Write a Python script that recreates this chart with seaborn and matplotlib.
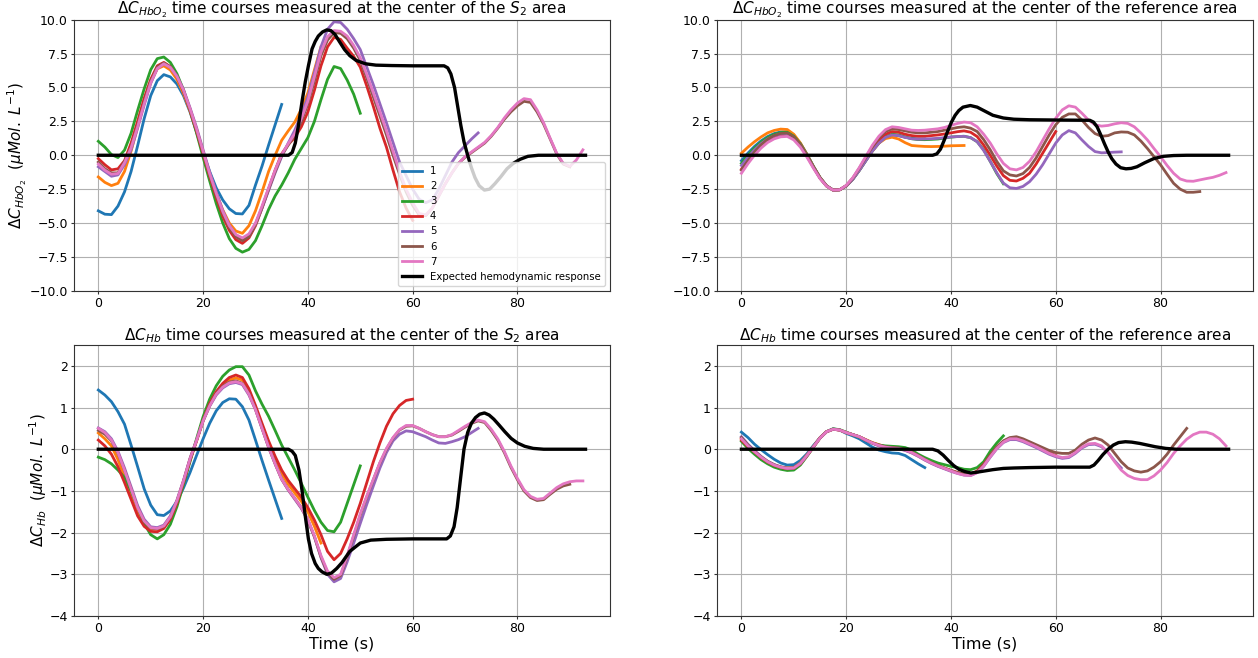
import matplotlib
matplotlib.use("Agg")
import matplotlib.pyplot as plt
import seaborn as sns

# ---------------- data ----------------
t_grid = [0.0, 1.25, 2.5, 3.75, 5.0, 6.25, 7.5, 8.75, 10.0, 11.25, 12.5, 13.75, 15.0, 16.25,
          17.5, 18.75, 20.0, 21.25, 22.5, 23.75, 25.0, 26.25, 27.5, 28.75, 30.0, 31.25, 32.5,
          33.75, 35.0, 36.25, 37.5, 38.75, 40.0, 41.25, 42.5, 43.75, 45.0, 46.25, 47.5, 48.75,
          50.0, 51.25, 52.5, 53.75, 55.0, 56.25, 57.5, 58.75, 60.0, 61.25, 62.5, 63.75, 65.0,
          66.25, 67.5, 68.75, 70.0, 71.25, 72.5, 73.75, 75.0, 76.25, 77.5, 78.75, 80.0, 81.25,
          82.5, 83.75, 85.0, 86.25, 87.5, 88.75, 90.0, 91.25, 92.5]

series_labels = ["1", "2", "3", "4", "5", "6", "7"]
expected_label = "Expected hemodynamic response"

# ---- dC_HbO2, centre of the S2 area ----
hbo2_s2_1 = [-4.1, -4.35, -4.38, -3.75, -2.7, -1.2, 0.7, 2.7, 4.4, 5.5, 5.95, 5.78, 5.26, 4.4,
             3.2, 1.7, 0.2, -1.2, -2.4, -3.3, -3.95, -4.3, -4.33, -3.7, -2.2, -0.8, 0.75, 2.25,
             3.75]
hbo2_s2_2 = [-1.6, -2.0, -2.24, -2.07, -1.19, 0.3, 2.1, 3.95, 5.4, 6.38, 6.6, 6.29, 5.6, 4.56,
             3.26, 1.78, 0.17, -1.37, -2.79, -4.03, -5.0, -5.59, -5.76, -5.2, -4.1, -2.7, -1.2,
             0.0, 1.1, 1.8, 2.45, 3.4, 4.6, 6.3, 8.0]
hbo2_s2_3 = [1.03, 0.6, 0.05, -0.17, 0.38, 1.62, 3.3, 4.9, 6.31, 7.13, 7.25, 6.85, 6.02, 4.83,
             3.34, 1.65, -0.16, -1.89, -3.55, -5.0, -6.15, -6.87, -7.15, -6.95, -6.3, -5.2, -4.0,
             -3.0, -2.2, -1.3, -0.3, 0.5, 1.3, 2.5, 4.1, 5.6, 6.55, 6.4, 5.55, 4.5, 3.1]
hbo2_s2_4 = [-0.25, -0.7, -1.08, -1.0, -0.4, 0.9, 2.5, 4.2, 5.6, 6.6, 6.85, 6.54, 5.82, 4.73,
             3.33, 1.78, 0.11, -1.56, -3.09, -4.5, -5.54, -6.23, -6.5, -6.1, -5.2, -3.9, -2.5,
             -1.1, 0.1, 0.8, 1.3, 2.1, 3.2, 4.8, 6.6, 8.0, 8.7, 8.55, 7.9, 7.3, 6.5, 5.1, 3.6,
             2.0, 0.6, -1.1, -2.7, -3.9, -4.8]
hbo2_s2_5 = [-0.85, -1.2, -1.55, -1.45, -0.69, 0.4, 2.0, 3.7, 5.3, 6.4, 6.75, 6.5, 5.86, 4.86,
             3.51, 2.05, 0.4, -1.23, -2.7, -4.08, -5.16, -5.89, -6.19, -5.9, -5.1, -3.9, -2.6,
             -1.3, -0.1, 0.9, 1.85, 3.0, 4.3, 6.1, 8.0, 9.3, 9.85, 9.8, 9.3, 8.6, 7.8, 6.5, 5.2,
             3.8, 2.4, 0.95, -0.5, -1.5, -2.5, -3.25, -3.5, -3.3, -2.5, -1.5, -0.5, 0.2, 0.7,
             1.2, 1.65]
hbo2_s2_6 = [-0.5, -1.0, -1.3, -1.3, -0.47, 0.6, 2.2, 3.9, 5.45, 6.5, 6.8, 6.51, 5.83, 4.78,
             3.39, 1.91, 0.25, -1.41, -2.89, -4.26, -5.34, -6.01, -6.3, -6.0, -5.1, -3.85, -2.5,
             -1.2, 0.0, 0.75, 1.5, 2.5, 3.8, 5.5, 7.35, 8.5, 9.05, 9.0, 8.6, 7.9, 7.0, 5.7, 4.3,
             2.9, 1.5, 0.0, -1.4, -2.7, -3.7, -4.4, -4.45, -3.9, -3.0, -2.1, -1.3, -0.6, -0.15,
             0.2, 0.55, 0.9, 1.4, 2.0, 2.65, 3.2, 3.65, 3.98, 3.9, 3.2, 2.3, 1.2, 0.1, -0.65,
             -0.85]
hbo2_s2_7 = [-0.65, -1.1, -1.4, -1.35, -0.55, 0.55, 2.1, 3.8, 5.35, 6.4, 6.75, 6.48, 5.82, 4.8,
             3.45, 1.95, 0.3, -1.35, -2.8, -4.15, -5.2, -5.85, -6.1, -5.8, -5.0, -3.75, -2.4,
             -1.1, 0.05, 0.85, 1.6, 2.7, 4.0, 5.8, 7.6, 8.75, 9.2, 9.15, 8.8, 8.1, 7.2, 5.95,
             4.6, 3.2, 1.8, 0.3, -1.2, -2.5, -3.5, -4.3, -4.4, -3.9, -3.0, -2.1, -1.3, -0.6,
             -0.1, 0.25, 0.6, 0.95, 1.45, 2.05, 2.75, 3.35, 3.85, 4.18, 4.1, 3.35, 2.4, 1.25,
             0.15, -0.6, -0.82, -0.35, 0.4]
exp_hbo2_s2_t = [0, 36.3, 37, 37.6, 38.2, 38.9, 39.5, 40.1, 40.8, 41.4, 42, 42.8, 43.6, 44.4,
                 45.2, 46, 47, 48, 49.2, 51, 53, 56, 60, 66, 66.7, 67.3, 68, 68.6, 69.2, 69.8,
                 70.5, 71.2, 71.9, 72.7, 73.7, 74.7, 75.7, 76.8, 78, 79.2, 80.5, 82, 84, 93]
exp_hbo2_s2 = [0, 0, 0.2, 0.9, 2.2, 4.0, 5.4, 6.6, 7.85, 8.4, 8.8, 9.1, 9.25, 9.2, 8.9, 8.4,
               7.8, 7.35, 7.0, 6.75, 6.65, 6.62, 6.6, 6.6, 6.45, 6.0, 5.0, 3.6, 2.2, 1.0, 0.0,
               -0.9, -1.65, -2.25, -2.57, -2.5, -2.1, -1.6, -1.0, -0.6, -0.3, -0.08, 0, 0]

# ---- dC_HbO2, centre of the reference area ----
hbo2_ref_1 = [-0.4, 0.16, 0.65, 1.06, 1.38, 1.6, 1.72, 1.74, 1.46, 0.88, 0.08, -0.82, -1.64,
              -2.25, -2.57, -2.55, -2.27, -1.78, -1.12, -0.4, 0.31, 0.9, 1.32, 1.5, 1.45, 1.33,
              1.25, 1.2, 1.2]
hbo2_ref_2 = [0.15, 0.6, 1.0, 1.35, 1.65, 1.83, 1.93, 1.9, 1.55, 0.91, 0.07, -0.83, -1.64,
              -2.26, -2.57, -2.55, -2.27, -1.75, -1.11, -0.38, 0.31, 0.9, 1.23, 1.33, 1.2, 0.93,
              0.72, 0.68, 0.65, 0.64, 0.65, 0.67, 0.7, 0.71, 0.72]
hbo2_ref_3 = [-0.6, 0.0, 0.53, 0.96, 1.31, 1.54, 1.67, 1.69, 1.41, 0.84, 0.04, -0.84, -1.65,
              -2.26, -2.57, -2.55, -2.27, -1.77, -1.11, -0.38, 0.35, 0.94, 1.36, 1.55, 1.5, 1.35,
              1.22, 1.16, 1.15, 1.17, 1.2, 1.27, 1.34, 1.38, 1.4, 1.3, 1.0, 0.4, -0.45, -1.35,
              -2.1]
hbo2_ref_4 = [-1.03, -0.36, 0.23, 0.72, 1.11, 1.37, 1.51, 1.54, 1.27, 0.72, -0.05, -0.9, -1.69,
              -2.27, -2.57, -2.55, -2.25, -1.73, -1.03, -0.27, 0.49, 1.11, 1.55, 1.75, 1.7, 1.55,
              1.45, 1.4, 1.4, 1.45, 1.5, 1.57, 1.65, 1.74, 1.8, 1.7, 1.38, 0.75, 0.0, -0.8, -1.5,
              -1.85, -1.9, -1.7, -1.33, -0.65, 0.15, 0.95, 1.75]
hbo2_ref_5 = [-0.75, -0.14, 0.4, 0.85, 1.2, 1.44, 1.57, 1.59, 1.32, 0.76, -0.02, -0.88, -1.68,
              -2.26, -2.57, -2.55, -2.27, -1.78, -1.12, -0.4, 0.31, 0.9, 1.32, 1.5, 1.45, 1.32,
              1.22, 1.18, 1.2, 1.22, 1.25, 1.3, 1.35, 1.38, 1.4, 1.3, 1.0, 0.35, -0.45, -1.3,
              -2.05, -2.4, -2.45, -2.3, -1.95, -1.4, -0.7, 0.1, 0.9, 1.5, 1.82, 1.65, 1.13, 0.65,
              0.27, 0.18, 0.2, 0.23, 0.25]
hbo2_ref_6 = [-1.1, -0.39, 0.25, 0.77, 1.18, 1.46, 1.61, 1.64, 1.37, 0.8, 0.01, -0.86, -1.67,
              -2.26, -2.57, -2.55, -2.24, -1.69, -0.96, -0.16, 0.63, 1.29, 1.75, 1.95, 1.9, 1.8,
              1.7, 1.65, 1.65, 1.7, 1.75, 1.85, 1.95, 2.05, 2.1, 2.0, 1.75, 1.15, 0.4, -0.45,
              -1.15, -1.45, -1.53, -1.35, -0.9, -0.2, 0.65, 1.5, 2.25, 2.8, 3.05, 3.05, 2.6, 2.05,
              1.6, 1.4, 1.45, 1.65, 1.72, 1.7, 1.5, 1.05, 0.5, -0.1, -0.7, -1.4, -2.07, -2.5,
              -2.73, -2.73, -2.68]
hbo2_ref_7 = [-1.33, -0.62, 0.01, 0.53, 0.94, 1.21, 1.36, 1.39, 1.13, 0.6, -0.14, -0.96, -1.72,
              -2.28, -2.57, -2.55, -2.22, -1.66, -0.91, -0.08, 0.74, 1.41, 1.89, 2.1, 2.05, 1.95,
              1.85, 1.83, 1.85, 1.9, 1.95, 2.05, 2.2, 2.35, 2.45, 2.4, 2.1, 1.55, 0.9, 0.1, -0.6,
              -1.0, -1.08, -0.9, -0.45, 0.25, 1.1, 1.95, 2.73, 3.35, 3.65, 3.55, 3.1, 2.6, 2.25,
              2.15, 2.2, 2.32, 2.4, 2.35, 2.1, 1.65, 1.13, 0.5, -0.1, -0.75, -1.33, -1.75, -1.9,
              -1.92, -1.82, -1.72, -1.63, -1.48, -1.28]
exp_hbo2_ref_t = [0, 36.5, 37.3, 38, 38.7, 39.4, 40.1, 40.8, 41.5, 42.3, 43.7, 45, 46.5, 48, 50,
                  52, 55, 60, 66.5, 67.2, 67.9, 68.6, 69.3, 70, 70.7, 71.5, 72.4, 73.4, 74.4,
                  75.5, 77, 78.7, 80.5, 82.5, 85, 93]
exp_hbo2_ref = [0, 0, 0.1, 0.45, 1.1, 1.8, 2.45, 2.95, 3.3, 3.55, 3.67, 3.55, 3.25, 2.95, 2.75,
                2.66, 2.62, 2.6, 2.58, 2.45, 2.1, 1.5, 0.85, 0.25, -0.25, -0.65, -0.92, -1.0,
                -0.97, -0.85, -0.55, -0.25, -0.08, -0.02, 0, 0]

# ---- dC_Hb, centre of the S2 area ----
hb_s2_1 = [1.42, 1.3, 1.14, 0.9, 0.6, 0.1, -0.42, -0.95, -1.34, -1.57, -1.59, -1.48, -1.25,
           -0.93, -0.56, -0.15, 0.25, 0.62, 0.92, 1.12, 1.21, 1.2, 1.02, 0.7, 0.22, -0.27, -0.74,
           -1.2, -1.66]
hb_s2_2 = [0.39, 0.25, 0.08, -0.25, -0.65, -1.1, -1.5, -1.78, -1.9, -1.92, -1.85, -1.63, -1.26,
           -0.78, -0.25, 0.2, 0.68, 1.06, 1.33, 1.52, 1.66, 1.71, 1.66, 1.38, 0.98, 0.55, 0.12,
           -0.25, -0.58, -0.84, -1.05, -1.25, -1.5, -1.85, -2.25]
hb_s2_3 = [-0.19, -0.25, -0.35, -0.5, -0.68, -1.0, -1.38, -1.78, -2.05, -2.15, -2.05, -1.8,
           -1.38, -0.85, -0.3, 0.25, 0.78, 1.2, 1.52, 1.75, 1.9, 1.98, 1.98, 1.78, 1.4, 1.08,
           0.79, 0.45, 0.1, -0.2, -0.5, -0.82, -1.15, -1.47, -1.75, -1.95, -1.98, -1.75, -1.3,
           -0.85, -0.4]
hb_s2_4 = [0.22, 0.08, -0.12, -0.42, -0.8, -1.2, -1.6, -1.85, -1.97, -1.98, -1.9, -1.68, -1.3,
           -0.8, -0.27, 0.2, 0.7, 1.1, 1.38, 1.58, 1.72, 1.78, 1.72, 1.45, 1.05, 0.62, 0.2,
           -0.17, -0.5, -0.75, -0.95, -1.15, -1.4, -1.7, -2.05, -2.45, -2.65, -2.5, -2.15,
           -1.75, -1.3, -0.8, -0.3, 0.15, 0.55, 0.85, 1.05, 1.17, 1.2]
hb_s2_5 = [0.51, 0.42, 0.25, -0.05, -0.45, -0.9, -1.35, -1.68, -1.86, -1.88, -1.82, -1.6, -1.22,
           -0.75, -0.22, 0.22, 0.68, 1.03, 1.3, 1.47, 1.57, 1.6, 1.55, 1.3, 0.95, 0.5, 0.05,
           -0.35, -0.72, -0.98, -1.2, -1.42, -1.7, -2.1, -2.6, -3.0, -3.18, -3.1, -2.7, -2.25,
           -1.78, -1.32, -0.88, -0.45, -0.08, 0.2, 0.36, 0.44, 0.42, 0.36, 0.3, 0.22, 0.15,
           0.14, 0.18, 0.23, 0.3, 0.4, 0.5]
hb_s2_6 = [0.45, 0.36, 0.2, -0.1, -0.5, -0.95, -1.4, -1.73, -1.89, -1.91, -1.85, -1.63, -1.25,
           -0.77, -0.23, 0.21, 0.68, 1.05, 1.33, 1.51, 1.61, 1.64, 1.58, 1.33, 0.96, 0.5, 0.05,
           -0.35, -0.72, -0.97, -1.18, -1.4, -1.7, -2.1, -2.58, -2.96, -3.12, -3.03, -2.58,
           -2.08, -1.58, -1.14, -0.73, -0.33, 0.0, 0.27, 0.46, 0.55, 0.56, 0.5, 0.42, 0.35, 0.3,
           0.3, 0.34, 0.43, 0.53, 0.62, 0.68, 0.64, 0.45, 0.22, -0.08, -0.43, -0.73, -1.0,
           -1.16, -1.23, -1.21, -1.08, -0.96, -0.88, -0.84]
hb_s2_7 = [0.5, 0.4, 0.22, -0.08, -0.5, -0.95, -1.4, -1.72, -1.88, -1.9, -1.84, -1.62, -1.24,
           -0.76, -0.23, 0.21, 0.68, 1.04, 1.32, 1.49, 1.59, 1.62, 1.57, 1.32, 0.95, 0.5, 0.05,
           -0.35, -0.72, -0.97, -1.18, -1.4, -1.68, -2.08, -2.55, -2.92, -3.08, -3.0, -2.55,
           -2.05, -1.55, -1.12, -0.72, -0.32, 0.02, 0.28, 0.47, 0.57, 0.57, 0.5, 0.42, 0.35,
           0.3, 0.3, 0.35, 0.45, 0.55, 0.64, 0.7, 0.66, 0.48, 0.25, -0.05, -0.4, -0.7, -0.97,
           -1.13, -1.2, -1.18, -1.05, -0.92, -0.83, -0.78, -0.76, -0.76]
exp_hb_s2_t = [0, 36.3, 37, 37.6, 38.3, 38.9, 39.5, 40.1, 40.7, 41.4, 42.0, 42.7, 43.6, 44.5,
               45.5, 46.5, 48, 50, 52, 55, 60, 66.5, 67.2, 67.9, 68.5, 69.1, 69.8, 70.5, 71.2,
               72, 72.8, 73.7, 74.6, 75.5, 76.5, 77.6, 78.8, 80, 81.4, 83, 85, 93]
exp_hb_s2 = [0, 0, -0.05, -0.15, -0.5, -1.0, -1.6, -2.15, -2.5, -2.74, -2.86, -2.94, -3.0,
             -2.97, -2.86, -2.72, -2.45, -2.25, -2.18, -2.16, -2.15, -2.15, -2.08, -1.86, -1.4,
             -0.75, 0.0, 0.4, 0.62, 0.76, 0.84, 0.87, 0.82, 0.72, 0.58, 0.42, 0.26, 0.15, 0.07,
             0.02, 0, 0]

# ---- dC_Hb, centre of the reference area ----
hb_ref_1 = [0.41, 0.28, 0.12, -0.01, -0.13, -0.24, -0.33, -0.38, -0.37, -0.27, -0.11, 0.09,
            0.27, 0.42, 0.49, 0.46, 0.38, 0.32, 0.25, 0.15, 0.05, -0.02, -0.06, -0.09, -0.1,
            -0.15, -0.25, -0.35, -0.44]
hb_ref_2 = [0.25, 0.08, -0.06, -0.19, -0.3, -0.38, -0.43, -0.45, -0.44, -0.33, -0.14, 0.06,
            0.27, 0.42, 0.48, 0.46, 0.4, 0.35, 0.3, 0.23, 0.16, 0.11, 0.06, 0.04, 0.03, -0.01,
            -0.07, -0.15, -0.24, -0.32, -0.39, -0.45, -0.51, -0.56, -0.6]
hb_ref_3 = [0.19, 0.02, -0.12, -0.25, -0.35, -0.43, -0.48, -0.51, -0.5, -0.38, -0.17, 0.05,
            0.27, 0.42, 0.49, 0.47, 0.41, 0.35, 0.29, 0.22, 0.15, 0.1, 0.08, 0.07, 0.06, 0.04,
            -0.02, -0.12, -0.2, -0.27, -0.33, -0.37, -0.41, -0.44, -0.48, -0.49, -0.44, -0.3,
            -0.05, 0.15, 0.32]
hb_ref_4 = [0.22, 0.06, -0.07, -0.2, -0.31, -0.39, -0.44, -0.47, -0.46, -0.35, -0.16, 0.05,
            0.27, 0.42, 0.48, 0.46, 0.4, 0.35, 0.3, 0.22, 0.15, 0.09, 0.05, 0.03, 0.02, -0.02,
            -0.08, -0.16, -0.25, -0.33, -0.4, -0.46, -0.51, -0.56, -0.6, -0.6, -0.52, -0.36,
            -0.14, 0.05, 0.19, 0.26, 0.26, 0.21, 0.14, 0.07, 0.0, -0.08, -0.15]
hb_ref_5 = [0.3, 0.12, -0.03, -0.17, -0.29, -0.37, -0.43, -0.46, -0.45, -0.34, -0.15, 0.06,
            0.27, 0.42, 0.48, 0.46, 0.4, 0.35, 0.3, 0.22, 0.14, 0.08, 0.04, 0.02, 0.01, -0.03,
            -0.09, -0.17, -0.26, -0.34, -0.41, -0.47, -0.53, -0.58, -0.62, -0.63, -0.56, -0.41,
            -0.19, 0.01, 0.16, 0.23, 0.23, 0.18, 0.11, 0.04, -0.04, -0.12, -0.18, -0.22, -0.2,
            -0.1, 0.03, 0.11, 0.12, 0.06, -0.08, -0.28, -0.45]
hb_ref_6 = [0.28, 0.1, -0.05, -0.18, -0.29, -0.37, -0.42, -0.45, -0.44, -0.33, -0.14, 0.07,
            0.28, 0.42, 0.48, 0.46, 0.4, 0.35, 0.3, 0.22, 0.15, 0.1, 0.06, 0.04, 0.03, -0.01,
            -0.07, -0.15, -0.24, -0.32, -0.39, -0.45, -0.51, -0.56, -0.6, -0.61, -0.54, -0.38,
            -0.15, 0.05, 0.2, 0.28, 0.3, 0.25, 0.18, 0.11, 0.04, -0.03, -0.08, -0.1, -0.1, -0.02,
            0.12, 0.22, 0.27, 0.22, 0.1, -0.1, -0.3, -0.45, -0.52, -0.55, -0.52, -0.43, -0.3,
            -0.12, 0.1, 0.3, 0.5]
hb_ref_7 = [0.25, 0.08, -0.06, -0.19, -0.3, -0.38, -0.43, -0.46, -0.45, -0.34, -0.15, 0.06,
            0.27, 0.42, 0.48, 0.46, 0.4, 0.35, 0.3, 0.22, 0.15, 0.09, 0.05, 0.03, 0.02, -0.02,
            -0.08, -0.16, -0.25, -0.33, -0.4, -0.46, -0.52, -0.58, -0.62, -0.63, -0.56, -0.4,
            -0.18, 0.02, 0.17, 0.25, 0.25, 0.2, 0.13, 0.06, -0.02, -0.1, -0.16, -0.2, -0.18,
            -0.08, 0.05, 0.13, 0.14, 0.08, -0.08, -0.3, -0.5, -0.63, -0.7, -0.73, -0.73, -0.64,
            -0.5, -0.32, -0.1, 0.08, 0.24, 0.35, 0.41, 0.41, 0.36, 0.25, 0.08]
exp_hb_ref_t = [0, 36.5, 37.5, 38.5, 39.5, 40.5, 41.5, 42.5, 43.8, 45, 46.5, 48, 50, 52, 55, 60,
                66.5, 67.3, 68.1, 69, 70, 71, 72, 73.3, 74.5, 76, 77.5, 79, 81, 83, 93]
exp_hb_ref = [0, 0, -0.04, -0.14, -0.27, -0.39, -0.48, -0.53, -0.57, -0.55, -0.52, -0.49, -0.46,
              -0.45, -0.44, -0.43, -0.43, -0.38, -0.27, -0.13, 0.0, 0.1, 0.16, 0.18, 0.17, 0.14,
              0.1, 0.06, 0.02, 0.0, 0]

titles = [
    r"$\Delta C_{HbO_2}$ time courses measured at the center of the $S_2$ area",
    r"$\Delta C_{HbO_2}$ time courses measured at the center of the reference area",
    r"$\Delta C_{Hb}$ time courses measured at the center of the $S_2$ area",
    r"$\Delta C_{Hb}$ time courses measured at the center of the reference area",
]
ylabel_hbo2 = r"$\Delta C_{HbO_2}\ \ (\mu Mol.\ L^{-1})$"
ylabel_hb = r"$\Delta C_{Hb}\ \ (\mu Mol.\ L^{-1})$"
xlabel = "Time (s)"
yticks_hbo2 = [-10.0, -7.5, -5.0, -2.5, 0.0, 2.5, 5.0, 7.5, 10.0]
yticks_hb = [-4, -3, -2, -1, 0, 1, 2]
xticks = [0, 20, 40, 60, 80]

# ---------------- plot ----------------
plt.rcParams["font.family"] = ["DejaVu Sans"]
palette = sns.color_palette("tab10", 7)

fig, axes = plt.subplots(2, 2, figsize=(12.58, 6.58), dpi=100)
fig.subplots_adjust(left=0.0588, right=0.996, top=0.970, bottom=0.0638,
                    wspace=0.2, hspace=0.2)

panels = [
    (axes[0, 0], [hbo2_s2_1, hbo2_s2_2, hbo2_s2_3, hbo2_s2_4, hbo2_s2_5, hbo2_s2_6, hbo2_s2_7],
     exp_hbo2_s2_t, exp_hbo2_s2, titles[0], ylabel_hbo2, None, (-10, 10), yticks_hbo2, True),
    (axes[0, 1], [hbo2_ref_1, hbo2_ref_2, hbo2_ref_3, hbo2_ref_4, hbo2_ref_5, hbo2_ref_6,
                  hbo2_ref_7],
     exp_hbo2_ref_t, exp_hbo2_ref, titles[1], None, None, (-10, 10), yticks_hbo2, False),
    (axes[1, 0], [hb_s2_1, hb_s2_2, hb_s2_3, hb_s2_4, hb_s2_5, hb_s2_6, hb_s2_7],
     exp_hb_s2_t, exp_hb_s2, titles[2], ylabel_hb, xlabel, (-4, 2.5), yticks_hb, False),
    (axes[1, 1], [hb_ref_1, hb_ref_2, hb_ref_3, hb_ref_4, hb_ref_5, hb_ref_6, hb_ref_7],
     exp_hb_ref_t, exp_hb_ref, titles[3], None, xlabel, (-4, 2.5), yticks_hb, False),
]

for ax, series, et, ev, title, ylab, xlab, ylim, yticks, show_legend in panels:
    for i, vals in enumerate(series):
        sns.lineplot(x=t_grid[:len(vals)], y=vals, ax=ax, color=palette[i], lw=2,
                     sort=False, label=series_labels[i] if show_legend else None)
    sns.lineplot(x=et, y=ev, ax=ax, color="black", lw=2.4, sort=False,
                 label=expected_label if show_legend else None)
    ax.set_ylim(*ylim)
    ax.set_yticks(yticks)
    ax.set_xticks(xticks)
    ax.grid(True, color="#b0b0b0", lw=0.8)
    for sp in ax.spines.values():
        sp.set_color("0.2")
    ax.set_title(title, fontsize=11, pad=2)
    ax.set_ylabel(ylab if ylab else "", fontsize=11, labelpad=0)
    ax.set_xlabel(xlab if xlab else "", fontsize=11.5, labelpad=1)
    ax.tick_params(labelsize=9, length=2, pad=2.5, color="0.2")
    if show_legend:
        ax.legend(loc="lower right", fontsize=7.3)
    elif ax.get_legend() is not None:
        ax.get_legend().remove()

fig.savefig("out.png", dpi=100)
